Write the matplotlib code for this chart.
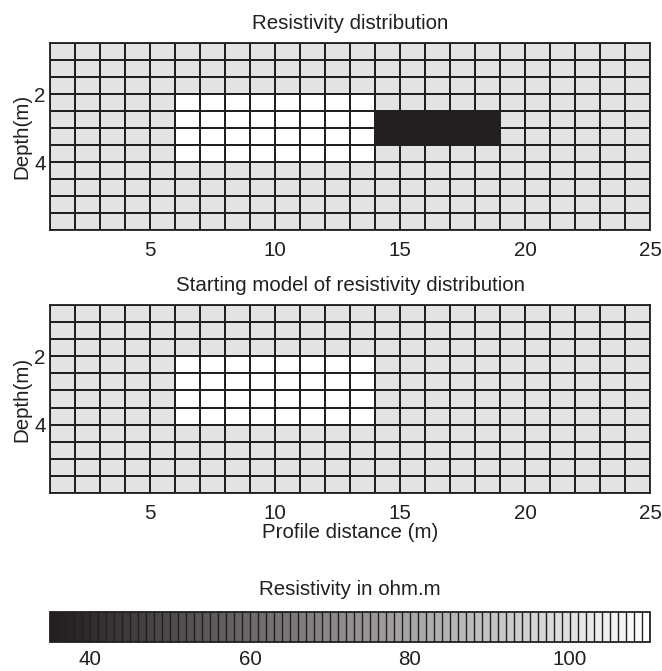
import numpy as np
import matplotlib
matplotlib.use("Agg")
import matplotlib.pyplot as plt
from matplotlib.colors import BoundaryNorm, LinearSegmentedColormap

plt.rcParams['font.family'] = ['Liberation Sans', 'DejaVu Sans']

# Data
x_edges = list(range(1, 26))                      # profile distance cell edges (m)
depth_edges = [0.5 + 0.5 * i for i in range(12)]  # depth cell edges (m)
background_res = 100
high_res = 110
high_x = (6, 14)
high_depth = (2.0, 4.0)
low_res = 35
low_x = (14, 19)
low_depth = (2.5, 3.5)
x_ticks = [5, 10, 15, 20, 25]
depth_ticks = [2, 4]
cbar_ticks = [40, 60, 80, 100]
res_min, res_max = 35, 110

def build(blocks):
    xe = np.array(x_edges, float)
    de = np.array(depth_edges, float)
    xc = (xe[:-1] + xe[1:]) / 2
    dc = (de[:-1] + de[1:]) / 2
    grid = np.full((len(dc), len(xc)), float(background_res))
    for val, (x0, x1), (d0, d1) in blocks:
        m = (dc[:, None] > d0) & (dc[:, None] < d1) & (xc[None, :] > x0) & (xc[None, :] < x1)
        grid[m] = val
    return xe, de, grid

true_model = build([(high_res, high_x, high_depth), (low_res, low_x, low_depth)])
start_model = build([(high_res, high_x, high_depth)])

edge = '#231f20'
txt = '#231f20'
FS = 14.8
cmap = LinearSegmentedColormap.from_list('g', ['#231f20', '#ffffff'], N=256)
levels = np.arange(res_min, res_max + 1, 1)
norm = BoundaryNorm(levels, cmap.N)

W, H = 662, 671
fig = plt.figure(figsize=(W / 100, H / 100), dpi=100)

def ax_at(l, t, r, b):
    return fig.add_axes([l / W, 1 - b / H, (r - l) / W, (b - t) / H])

def panel(ax, model, title, xlabel=None):
    xe, de, grid = model
    mesh = ax.pcolormesh(xe, de, grid, cmap=cmap, norm=norm, edgecolors=edge, linewidth=1.1)
    ax.set_xlim(xe[0], xe[-1])
    ax.set_ylim(de[-1], de[0])
    ax.set_xticks(x_ticks)
    ax.set_yticks(depth_ticks)
    ax.tick_params(axis='x', length=0, labelsize=FS, colors=txt, pad=8)
    ax.tick_params(axis='y', length=0, labelsize=FS, colors=txt, pad=3)
    ax.set_ylabel('Depth(m)', fontsize=FS, color=txt, labelpad=2)
    ax.set_title(title, fontsize=FS, color=txt, pad=10)
    if xlabel:
        ax.set_xlabel(xlabel, fontsize=FS, color=txt, labelpad=0)
    for s in ax.spines.values():
        s.set_color(edge)
        s.set_linewidth(1.3)
    return mesh

ax1 = ax_at(50, 43, 650, 230)
mesh = panel(ax1, true_model, 'Resistivity distribution')
ax2 = ax_at(50, 305, 650, 493)
panel(ax2, start_model, 'Starting model of resistivity distribution', 'Profile distance (m)')

cax = ax_at(50, 612, 650, 642)
cb = fig.colorbar(mesh, cax=cax, orientation='horizontal', drawedges=True,
                  boundaries=levels, ticks=cbar_ticks)
cb.dividers.set_color(edge)
cb.dividers.set_linewidth(1.0)
cb.outline.set_edgecolor(edge)
cb.outline.set_linewidth(1.3)
cax.minorticks_off()
cax.tick_params(which='both', length=0, labelsize=FS, colors=txt, pad=6)
cax.set_title('Resistivity in ohm.m', fontsize=FS, color=txt, pad=12)

fig.savefig('out.png', dpi=100)
